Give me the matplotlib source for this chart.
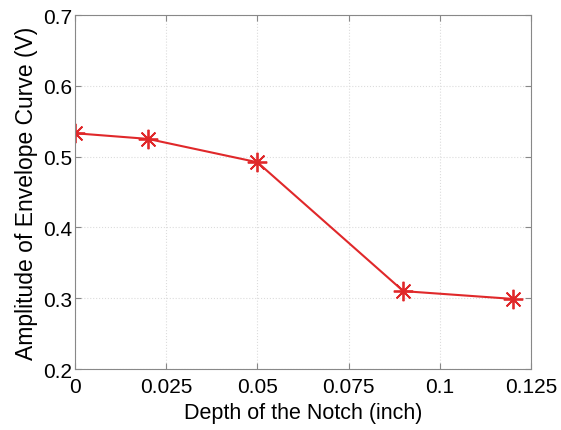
import matplotlib
matplotlib.use("Agg")
import matplotlib.pyplot as plt

plt.rcParams['font.family'] = ['Liberation Sans', 'DejaVu Sans']

depth = [0, 0.02, 0.05, 0.09, 0.12]
amplitude = [0.533, 0.525, 0.492, 0.310, 0.299]
xticks = [0, 0.025, 0.05, 0.075, 0.1, 0.125]
xticklabels = ['0', '0.025', '0.05', '0.075', '0.1', '0.125']
yticks = [0.2, 0.3, 0.4, 0.5, 0.6, 0.7]

fig = plt.figure(figsize=(5.61, 4.31), dpi=100)
ax = fig.add_axes([75 / 561, 1 - 370 / 431, 456 / 561, 354 / 431])

red = '#e0282a'
ax.plot(depth, amplitude, color=red, linewidth=1.5, marker=(8, 2, 0),
        markersize=14, markeredgewidth=1.3, markeredgecolor=red)

ax.set_xlim(0, 0.125)
ax.set_ylim(0.2, 0.7)
ax.set_xticks(xticks)
ax.set_xticklabels(xticklabels)
ax.set_yticks(yticks)
ax.grid(True, color='#dcdcdc', linestyle=':', linewidth=0.8)
ax.set_axisbelow(True)
ax.tick_params(direction='in', top=True, right=True, labelsize=15,
               color='#888888', length=4)
ax.tick_params(axis='x', pad=6)
ax.tick_params(axis='y', pad=2)
for s in ax.spines.values():
    s.set_color('#888888')

ax.set_xlabel('Depth of the Notch (inch)', fontsize=15.5, labelpad=4)
ax.set_ylabel('Amplitude of Envelope Curve (V)', fontsize=16.5, labelpad=4)

fig.savefig('out.png', dpi=100)
